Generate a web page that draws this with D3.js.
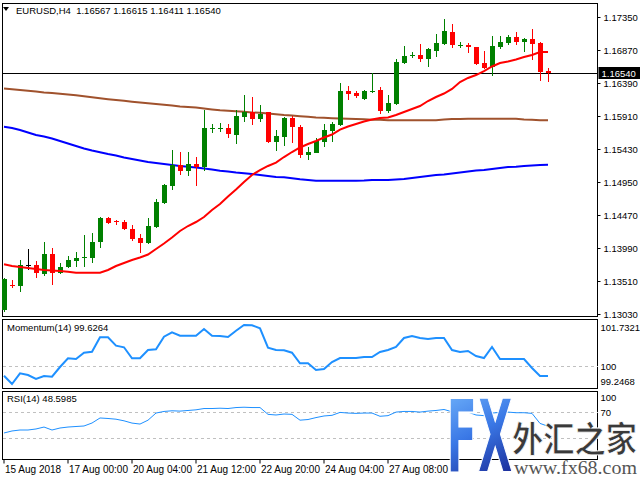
<!DOCTYPE html>
<html><head><meta charset="utf-8">
<script src="https://cdn.jsdelivr.net/npm/d3@7/dist/d3.min.js"></script>
<style>body{margin:0;background:#fff}svg{display:block}</style>
</head><body>
<svg id="chart" width="640" height="480"></svg>
<script>
// ---------- DATA ----------
const openP  = [1.13088,1.13459,1.13437,1.13743,1.13743,1.13612,1.13903,1.13626,1.13714,1.13801,1.13844,1.13844,1.14077,1.14426,1.14383,1.14368,1.14266,1.14135,1.14063,1.14295,1.14644,1.14892,1.15197,1.15110,1.15212,1.15168,1.15728,1.15728,1.15735,1.15633,1.15895,1.15968,1.15866,1.15968,1.15532,1.15604,1.15881,1.15750,1.15343,1.15372,1.15532,1.15692,1.15779,1.16273,1.16244,1.16157,1.16259,1.16288,1.15983,1.16084,1.16681,1.16790,1.16797,1.16739,1.16855,1.16957,1.17132,1.16935,1.16943,1.16913,1.16681,1.16623,1.16913,1.16972,1.17059,1.16986,1.17030,1.16972,1.16567];
const highP  = [1.13554,1.13524,1.13815,1.13975,1.13801,1.14077,1.13990,1.13772,1.13874,1.13932,1.14179,1.14208,1.14441,1.14441,1.14397,1.14397,1.14324,1.14194,1.14426,1.14703,1.14921,1.15415,1.15386,1.15386,1.15313,1.15997,1.15793,1.15808,1.15793,1.15997,1.16215,1.16186,1.16070,1.15975,1.15706,1.15895,1.15910,1.15779,1.15459,1.15590,1.15793,1.15823,1.16390,1.16346,1.16273,1.16288,1.16535,1.16332,1.16215,1.16739,1.16928,1.16841,1.16957,1.16899,1.17103,1.17321,1.17248,1.16986,1.16972,1.16920,1.16855,1.17073,1.17073,1.17088,1.17132,1.17044,1.17175,1.16986,1.16615];
const lowP   = [1.13059,1.13408,1.13350,1.13670,1.13554,1.13583,1.13452,1.13612,1.13705,1.13714,1.13714,1.13772,1.13990,1.14345,1.14324,1.14252,1.14092,1.13917,1.14048,1.14288,1.14637,1.14833,1.15052,1.15037,1.14892,1.15110,1.15663,1.15677,1.15590,1.15503,1.15823,1.15779,1.15823,1.15517,1.15401,1.15473,1.15517,1.15299,1.15270,1.15365,1.15459,1.15532,1.15764,1.16143,1.16172,1.16143,1.16244,1.15939,1.15953,1.16077,1.16666,1.16753,1.16695,1.16623,1.16768,1.16943,1.16899,1.16899,1.16826,1.16652,1.16593,1.16492,1.16884,1.16943,1.16943,1.16841,1.16724,1.16419,1.16411];
const closeP = [1.13539,1.13452,1.13743,1.13743,1.13626,1.13903,1.13626,1.13714,1.13815,1.13844,1.13859,1.14077,1.14426,1.14353,1.14368,1.14266,1.14121,1.14063,1.14310,1.14659,1.14906,1.15197,1.15110,1.15212,1.15168,1.15735,1.15735,1.15735,1.15648,1.15910,1.15968,1.15866,1.15939,1.15532,1.15619,1.15881,1.15750,1.15343,1.15386,1.15546,1.15706,1.15793,1.16273,1.16230,1.16201,1.16273,1.16273,1.15983,1.16099,1.16695,1.16783,1.16797,1.16739,1.16884,1.16972,1.17146,1.16943,1.16943,1.16913,1.16666,1.16608,1.16928,1.16986,1.17059,1.16986,1.17030,1.16957,1.16550,1.16540];
const maRed   = [1.13753,1.13728,1.13714,1.13699,1.13684,1.13670,1.13663,1.13655,1.13645,1.13631,1.13631,1.13631,1.13631,1.13670,1.13728,1.13772,1.13815,1.13852,1.13895,1.13975,1.14055,1.14143,1.14237,1.14310,1.14368,1.14441,1.14543,1.14630,1.14739,1.14841,1.14950,1.15052,1.15124,1.15183,1.15233,1.15313,1.15386,1.15452,1.15503,1.15546,1.15597,1.15641,1.15713,1.15757,1.15793,1.15830,1.15859,1.15881,1.15888,1.15924,1.15968,1.16012,1.16055,1.16128,1.16186,1.16237,1.16303,1.16404,1.16463,1.16506,1.16564,1.16630,1.16681,1.16703,1.16732,1.16768,1.16797,1.16841,1.16841];
const maBrown = [1.16310,1.16298,1.16288,1.16276,1.16265,1.16253,1.16244,1.16233,1.16223,1.16211,1.16196,1.16182,1.16167,1.16154,1.16143,1.16131,1.16118,1.16106,1.16096,1.16084,1.16073,1.16061,1.16049,1.16041,1.16032,1.16019,1.16006,1.15993,1.15985,1.15978,1.15971,1.15962,1.15956,1.15946,1.15935,1.15924,1.15916,1.15907,1.15898,1.15889,1.15884,1.15879,1.15875,1.15871,1.15866,1.15862,1.15857,1.15855,1.15850,1.15850,1.15850,1.15850,1.15850,1.15850,1.15850,1.15859,1.15866,1.15866,1.15869,1.15869,1.15869,1.15869,1.15869,1.15869,1.15869,1.15859,1.15855,1.15850,1.15850];
const maBlue  = [1.15754,1.15735,1.15706,1.15670,1.15633,1.15612,1.15583,1.15546,1.15510,1.15473,1.15437,1.15408,1.15382,1.15357,1.15335,1.15306,1.15284,1.15263,1.15241,1.15226,1.15212,1.15197,1.15183,1.15172,1.15161,1.15146,1.15132,1.15114,1.15103,1.15088,1.15076,1.15066,1.15052,1.15037,1.15023,1.15018,1.15004,1.14989,1.14979,1.14969,1.14969,1.14969,1.14969,1.14969,1.14969,1.14972,1.14979,1.14979,1.14979,1.14986,1.14993,1.15008,1.15023,1.15037,1.15052,1.15059,1.15073,1.15088,1.15103,1.15117,1.15124,1.15139,1.15153,1.15168,1.15172,1.15183,1.15190,1.15197,1.15201];
const momentum = [99.641,99.323,99.732,99.667,99.514,99.629,99.602,99.973,100.306,100.279,100.520,100.558,101.109,101.109,100.788,100.727,100.306,100.306,100.623,100.650,101.132,101.300,101.170,101.170,101.170,101.426,101.170,101.159,101.120,101.361,101.579,101.568,101.453,100.711,100.623,100.612,100.520,100.115,100.115,99.859,99.897,100.165,100.317,100.317,100.317,100.356,100.356,100.547,100.623,100.738,101.082,101.159,101.082,101.044,101.082,101.082,100.623,100.547,100.585,100.394,100.317,100.738,100.279,100.279,100.279,100.279,99.935,99.629,99.6264];
const rsi = [38.2,41.3,42.8,42.8,44.4,47.4,42.8,45.9,47.4,48.2,49.0,53.6,61.4,60.6,59.5,57.0,53.5,52.0,58.0,69.0,71.5,72.5,72.0,73.0,74.0,76.0,76.0,76.5,76.0,77.5,78.0,77.5,77.5,67.0,66.0,67.5,67.0,58.0,59.0,62.0,64.5,65.5,70.0,69.0,68.5,69.0,69.0,64.0,65.0,70.5,71.5,71.5,70.5,72.0,73.0,74.5,71.0,71.0,70.5,66.0,65.0,69.0,70.0,70.5,69.5,69.5,68.5,53.0,48.6];
const priceTicks = [1.17350,1.16870,1.16390,1.15910,1.15430,1.14950,1.14470,1.13990,1.13510,1.13030];
const timeTickIdx  = [0,8,16,24,32,40,48];
const timeTickText = ["15 Aug 2018","17 Aug 00:00","20 Aug 04:00","21 Aug 12:00","22 Aug 20:00","24 Aug 04:00","27 Aug 08:00"];
const lastPrice = 1.16540;
const title = "EURUSD,H4  1.16567 1.16615 1.16411 1.16540";
const momTitle = "Momentum(14) 99.6264";
const rsiTitle = "RSI(14) 48.5985";
const momRange = [99.2468, 101.7321];
const rsiLevels = [70, 30];

// ---------- LAYOUT ----------
const svg = d3.select("#chart");
const FONT = "'Liberation Sans', Arial, sans-serif";
const AX = 9.5;
const L = 2.5, R = 597.5;
const main = {top: 3, bottom: 316};
const mom = {top: 319, bottom: 388};
const rsiP = {top: 391, bottom: 459};

const x = d3.scaleLinear().domain([0, 68]).range([4, 548]);
const y = d3.scaleLinear().domain([1.13030, 1.17350]).range([314, 17]);
const yM = d3.scaleLinear().domain(momRange).range([386, 321]);
const yR = d3.scaleLinear().domain([0, 100]).range([457.7, 393]);

const g = svg.append("g").attr("shape-rendering", "crispEdges");

// frames
[[main.top, main.bottom],[mom.top, mom.bottom],[rsiP.top, rsiP.bottom]].forEach(([t,b]) => {
  g.append("rect").attr("x", L).attr("y", t+0.5).attr("width", R-L).attr("height", b-t)
   .attr("fill","none").attr("stroke","#000").attr("stroke-width",1);
});

// price axis
const yAxis = d3.axisRight(y).tickValues(priceTicks).tickFormat(d3.format(".5f")).tickSize(3).tickPadding(3);
const ya = svg.append("g").attr("transform", `translate(${R},0)`).call(yAxis);
ya.select(".domain").remove();
ya.selectAll("text").attr("font-family", FONT).attr("font-size", AX).attr("fill", "#000");
ya.selectAll("line").attr("stroke", "#000");

// time axis
const xAxis = d3.axisBottom(x).tickValues(timeTickIdx).tickFormat((d,i) => timeTickText[i]).tickSize(4).tickPadding(2);
const xa = svg.append("g").attr("transform", `translate(-0.5,${rsiP.bottom+0.5})`).call(xAxis);
xa.select(".domain").remove();
xa.selectAll("text").attr("font-family", FONT).attr("font-size", 10).attr("fill", "#000")
  .attr("text-anchor", "start").attr("x", 1);
xa.selectAll("line").attr("stroke", "#000");

// MAs
const idx = d3.range(openP.length);
const maLine = arr => d3.line().x((d,i) => x(i)).y(d => y(d))(arr);
svg.append("path").attr("d", maLine(maBrown)).attr("fill","none").attr("stroke","#a0522d").attr("stroke-width",2);
svg.append("path").attr("d", maLine(maBlue)).attr("fill","none").attr("stroke","#0000ff").attr("stroke-width",2);

// last-price line
g.append("line").attr("x1", L).attr("x2", R).attr("y1", Math.round(y(lastPrice))+0.5).attr("y2", Math.round(y(lastPrice))+0.5)
  .attr("stroke","#000");

// candles
const cg = svg.append("g").attr("shape-rendering","crispEdges");
idx.forEach(i => {
  const o = openP[i], c = closeP[i];
  const col = c > o ? "#008000" : (c < o ? "#ff0000" : "#000000");
  const cx = Math.round(x(i)) + 0.5;
  cg.append("line").attr("x1", cx).attr("x2", cx).attr("y1", Math.round(y(highP[i]))).attr("y2", Math.round(y(lowP[i])))
    .attr("stroke", col).attr("stroke-width", 1);
  const yt = Math.round(y(Math.max(o,c))), yb = Math.round(y(Math.min(o,c)));
  const h = Math.max(1, yb - yt);
  cg.append("rect").attr("x", cx - 2.5).attr("y", yt).attr("width", 5).attr("height", h).attr("fill", col);
});

svg.append("path").attr("d", maLine(maRed)).attr("fill","none").attr("stroke","#ff0000").attr("stroke-width",2);

// last price tag
svg.append("rect").attr("x", R+1).attr("y", Math.round(y(lastPrice))-6).attr("width", 42).attr("height", 12).attr("fill","#000");
svg.append("text").attr("x", R+4).attr("y", Math.round(y(lastPrice))+4).text(d3.format(".5f")(lastPrice))
  .attr("font-family", FONT).attr("font-size", AX).attr("fill","#fff");

// title
svg.append("path").attr("d","M3,7 L9,7 L6,11 Z").attr("fill","#000");
svg.append("text").attr("x", 16).attr("y", 14).text(title).attr("font-family", FONT).attr("font-size", 9.5).attr("fill","#000").style("white-space","pre");

// Momentum panel
g.append("line").attr("x1", L).attr("x2", R).attr("y1", Math.round(yM(100))+0.5).attr("y2", Math.round(yM(100))+0.5)
  .attr("stroke","#c0c0c0").attr("stroke-dasharray","3,3");
svg.append("path").attr("d", d3.line().x((d,i)=>x(i)).y(d=>yM(d))(momentum)).attr("fill","none").attr("stroke","#1e90ff").attr("stroke-width",2);
svg.append("text").attr("x", 7).attr("y", 331).text(momTitle).attr("font-family", FONT).attr("font-size", 9.5);
[[momRange[1], 331],[100, Math.round(yM(100))+4],[momRange[0], 385]].forEach(([v,yy]) => {
  svg.append("text").attr("x", R+3).attr("y", yy).text(v === 100 ? "100" : d3.format(".4f")(v))
    .attr("font-family", FONT).attr("font-size", AX);
});

// RSI panel
rsiLevels.forEach(v => {
  g.append("line").attr("x1", L).attr("x2", R).attr("y1", Math.round(yR(v))+0.5).attr("y2", Math.round(yR(v))+0.5)
    .attr("stroke","#c0c0c0").attr("stroke-dasharray","3,3");
});
svg.append("path").attr("d", d3.line().x((d,i)=>x(i)).y(d=>yR(d))(rsi)).attr("fill","none").attr("stroke","#1e90ff").attr("stroke-width",1);
svg.append("text").attr("x", 7).attr("y", 402).text(rsiTitle).attr("font-family", FONT).attr("font-size", 9.5);
svg.append("text").attr("x", R+3).attr("y", 401).text("100").attr("font-family", FONT).attr("font-size", AX);
svg.append("text").attr("x", R+3).attr("y", Math.round(yR(70))+4).text("70").attr("font-family", FONT).attr("font-size", AX);

// watermark logo
const defs = svg.append("defs");
const gr = defs.append("linearGradient").attr("id","fxg").attr("x1",0).attr("y1",0).attr("x2",0.3).attr("y2",1);
gr.append("stop").attr("offset","0%").attr("stop-color","#7cc0ff");
gr.append("stop").attr("offset","55%").attr("stop-color","#3a78e6");
gr.append("stop").attr("offset","100%").attr("stop-color","#1c2f9c");
svg.append("text").attr("transform","translate(446,472) scale(1,1.55)").text("FX").attr("font-family","'DejaVu Sans', sans-serif")
  .attr("font-weight","bold").attr("font-size", 66).attr("fill","url(#fxg)").attr("stroke","#fff").attr("stroke-width",1.2)
  .attr("textLength", 67).attr("lengthAdjust","spacingAndGlyphs");
svg.append("text").attr("x", 512).attr("y", 452).text("外汇之家").attr("font-family","'Noto Sans CJK SC', sans-serif")
  .attr("font-weight","bold").attr("font-size", 35).attr("fill","#3a3a3a").attr("stroke","#fff").attr("stroke-width",0.8)
  .attr("textLength", 125).attr("lengthAdjust","spacingAndGlyphs");
svg.append("text").attr("x", 514).attr("y", 474).text("www.fx68.com").attr("font-family","'Liberation Serif', serif")
  .attr("font-size", 18).attr("fill","#555").attr("textLength", 123).attr("lengthAdjust","spacingAndGlyphs");
</script>
</body></html>
